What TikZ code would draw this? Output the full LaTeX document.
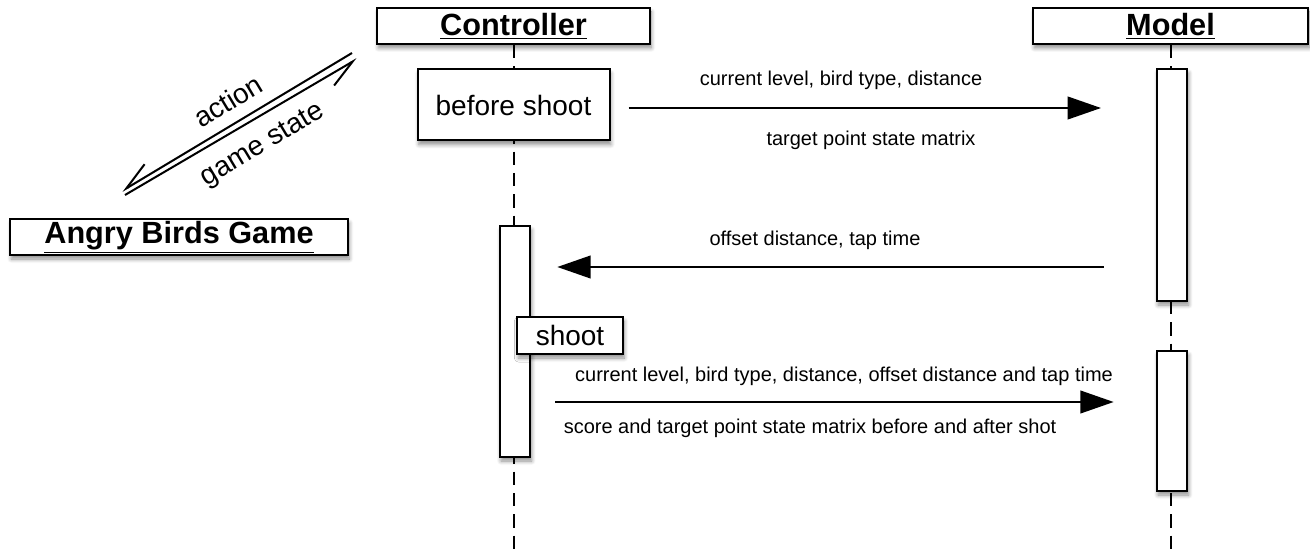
\documentclass[tikz,border=0pt]{standalone}
\usepackage{fontspec}
\setmainfont{Liberation Sans}
\usetikzlibrary{arrows.meta,shadows.blur}

\begin{document}
\begin{tikzpicture}[x=0.75pt,y=-0.75pt,
    every node/.style={font=\fontsize{15}{18}\selectfont},
    softshadow/.style={blur shadow={shadow xshift=1pt,shadow yshift=-3pt,
      shadow blur radius=3pt,shadow blur steps=6,shadow opacity=45}},
    header/.style={draw,line width=1.5pt,fill=white,inner sep=0pt,minimum height=27pt,
      softshadow,font=\fontsize{23}{27}\selectfont\bfseries},
    activity/.style={draw,line width=1.5pt,fill=white,inner sep=0pt,minimum width=23pt,softshadow},
    stepbox/.style={draw,line width=1.5pt,fill=white,inner sep=0pt,softshadow,
      font=\fontsize{21}{25}\selectfont},
    lifeline/.style={line width=1.5pt,dash pattern=on 10pt off 6pt},
    msg/.style={line width=1.5pt,-{Triangle[length=25pt,width=17pt]}},
    barb/.style={line width=1.5pt,-{Straight Barb[right,length=21pt,width=17pt]}},
  ]
    \useasboundingbox (0,0) rectangle (1310,556);

    % participants
    \node[header,minimum width=204.75pt] (ctrl) at (513.5,26) {\underline{Controller}};
    \node[header,minimum width=206.25pt] (model) at (1170.5,26) {\underline{Model}};
    \node[header,minimum width=253.5pt] (game) at (179,237) {\underline{Angry Birds Game}};

    \coordinate (bottom) at (0,556);
    \draw[lifeline] (ctrl.south) -- (ctrl.south |- bottom);
    \draw[lifeline] (model.south) -- (model.south |- bottom);

    % activations
    \node[stepbox,minimum width=144pt,minimum height=53.25pt] (before) at (513.5,105) {before shoot};
    \node[activity,minimum height=174pt] (mact1) at (1172,185) {};
    \node[activity,minimum height=173.25pt] (cact) at (515,341.5) {};
    \node[stepbox,minimum width=79.5pt,minimum height=27.75pt] (shoot) at (570,335.5) {shoot};
    \node[activity,minimum height=105pt] (mact2) at (1172,421) {};

    % game <-> controller
    \coordinate (act1) at (352,53);
    \coordinate (act2) at (122,191);
    \coordinate (st1) at (125,195);
    \coordinate (st2) at (357,59);
    \draw[barb] (act1) -- (act2);
    \draw[barb] (st1) -- (st2);
    \node[rotate=31,font=\fontsize{21}{25}\selectfont] (actlbl) at (228,101) {action};
    \node[rotate=31,font=\fontsize{21}{25}\selectfont] (statelbl) at (263,146) {game state};

    % messages
    \coordinate (y1) at (0,108);
    \coordinate (y2) at (0,267);
    \coordinate (y3) at (0,402);
    \draw[msg,shorten <=13.5pt,shorten >=41pt] (before.east |- y1) -- (mact1.west |- y1);
    \draw[msg,shorten <=39pt,shorten >=19.5pt] (mact1.west |- y2) -- (cact.east |- y2);
    \draw[msg,shorten <=18pt,shorten >=31.5pt] (cact.east |- y3) -- (mact2.west |- y3);

    \node (m1a) at (841,80) {current level, bird type, distance};
    \node (m1b) at (871,140) {target point state matrix};
    \node (m2a) at (815,240) {offset distance, tap time};
    \node (m3a) at (844,376) {current level, bird type, distance, offset distance and tap time};
    \node (m3b) at (810,428) {score and target point state matrix before and after shot};
\end{tikzpicture}
\end{document}
